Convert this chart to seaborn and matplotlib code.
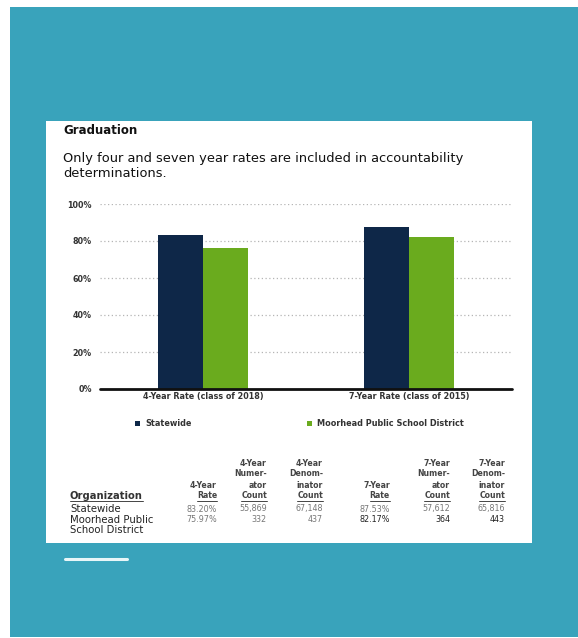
import matplotlib
matplotlib.use("Agg")
import matplotlib.pyplot as plt
from matplotlib.patches import Rectangle
from matplotlib.lines import Line2D
import seaborn as sns
import pandas as pd

# ---- data ----
categories = ["4-Year Rate (class of 2018)", "7-Year Rate (class of 2015)"]
organizations = ["Statewide", "Moorhead Public School District"]
statewide_rates = [83.20, 87.53]
moorhead_rates = [75.97, 82.17]
y_ticks = [0, 20, 40, 60, 80, 100]
y_tick_labels = ["0%", "20%", "40%", "60%", "80%", "100%"]

table_headers = [
    ["4-Year", "Rate"],
    ["4-Year", "Numer-", "ator", "Count"],
    ["4-Year", "Denom-", "inator", "Count"],
    ["7-Year", "Rate"],
    ["7-Year", "Numer-", "ator", "Count"],
    ["7-Year", "Denom-", "inator", "Count"],
]
row_names = ["Statewide", "Moorhead Public\nSchool District"]
statewide_row = ["83.20%", "55,869", "67,148", "87.53%", "57,612", "65,816"]
moorhead_row = ["75.97%", "332", "437", "82.17%", "364", "443"]

title = "Graduation"
subtitle = "Only four and seven year rates are included in accountability\ndeterminations."

# ---- styling ----
W, H = 578, 638
teal = "#39a3bb"
navy = "#0e2748"
green = "#6aab1e"

sns.set_theme(style="white")
plt.rcParams["font.family"] = ["DejaVu Sans"]

fig = plt.figure(figsize=(W / 100, H / 100), dpi=100)
fig.patch.set_facecolor("white")

def fx(x):
    return x / W

def fy(y):
    return 1 - y / H

# teal background and white card
fig.patches.append(Rectangle((fx(10), fy(637)), fx(578 - 10), (637 - 7) / H,
                             transform=fig.transFigure, facecolor=teal, edgecolor="none", zorder=0))
fig.patches.append(Rectangle((fx(46), fy(543)), fx(532 - 46), (543 - 121) / H,
                             transform=fig.transFigure, facecolor="white", edgecolor="none", zorder=1))
fig.lines.append(Line2D([fx(65), fx(127)], [fy(559), fy(559)], transform=fig.transFigure,
                        color="#e8f6f8", lw=2.2, zorder=2))

fig.text(fx(63), fy(130), title, fontsize=8.5, fontweight="bold", color="#111", va="center", ha="left")
fig.text(fx(63), fy(166), subtitle, fontsize=9.4, color="#111", va="center", ha="left", linespacing=1.15)

# ---- chart ----
df = pd.DataFrame({
    "category": categories * 2,
    "organization": [organizations[0]] * 2 + [organizations[1]] * 2,
    "rate": statewide_rates + moorhead_rates,
})

ax = fig.add_axes([fx(100), fy(389), fx(512 - 100), (389 - 204) / H])
ax.set_zorder(3)
ax.patch.set_alpha(0)
sns.barplot(data=df, x="category", y="rate", hue="organization", order=categories,
            hue_order=organizations, palette=[navy, green], width=0.44, saturation=1,
            ax=ax, edgecolor="none")
ax.set_xlim(-0.5, 1.5)
ax.set_ylim(0, 100)
ax.set_yticks(y_ticks)
ax.set_yticklabels(y_tick_labels)
for t in y_ticks[1:]:
    ax.axhline(t, color="#b5b5b5", lw=0.9, linestyle=(0, (1, 2)), zorder=0)
ax.axhline(0, color="#111", lw=2, zorder=5, clip_on=False)
for s in ax.spines.values():
    s.set_visible(False)
ax.set_xlabel("")
ax.set_ylabel("")
ax.tick_params(axis="y", length=0, pad=6, labelsize=5.8, labelcolor="#333")
ax.tick_params(axis="x", length=0, pad=2, labelsize=5.8, labelcolor="#333")
for lab in ax.get_xticklabels() + ax.get_yticklabels():
    lab.set_fontweight("bold")

handles, labels = ax.get_legend_handles_labels()
ax.get_legend().remove()
leg = fig.legend(handles, labels, ncol=2, loc="center left",
                 bbox_to_anchor=(fx(135), fy(424)), bbox_transform=fig.transFigure,
                 frameon=False, fontsize=5.9, handlelength=0.6, handleheight=0.6,
                 handletextpad=0.7, columnspacing=14.0, borderaxespad=0, borderpad=0)
for t in leg.get_texts():
    t.set_fontweight("bold")
    t.set_color("#333")

# ---- table ----
col_right = [217, 267, 323, 390, 450, 505]
header_lines_y = [463, 474, 485, 496]
renderer = fig.canvas.get_renderer()
hdr_fs = 5.6
hdr_color = "#444"

def underline(txt, y):
    bb = txt.get_window_extent(renderer=renderer)
    x0, x1 = bb.x0 / fig.dpi / fig.get_figwidth(), bb.x1 / fig.dpi / fig.get_figwidth()
    fig.lines.append(Line2D([x0, x1], [fy(y + 5), fy(y + 5)], transform=fig.transFigure,
                            color=hdr_color, lw=0.7, zorder=4))

org = fig.text(fx(70), fy(496), "Organization", fontsize=7.2, fontweight="bold", color="#333",
               ha="left", va="center", zorder=4)
underline(org, 496)
for xr, lines in zip(col_right, table_headers):
    n = len(lines)
    ys = header_lines_y[-n:]
    for i, (line, y) in enumerate(zip(lines, ys)):
        t = fig.text(fx(xr), fy(y), line, fontsize=hdr_fs, fontweight="bold", color=hdr_color,
                     ha="right", va="center", zorder=4)
        if i == n - 1:
            underline(t, y)

fig.text(fx(70), fy(509), row_names[0], fontsize=7.3, color="#222", ha="left", va="center", zorder=4)
fig.text(fx(70), fy(525), row_names[1], fontsize=7.3, color="#222", ha="left", va="center",
         linespacing=1.05, zorder=4)
for i, (xr, v) in enumerate(zip(col_right, statewide_row)):
    fig.text(fx(xr), fy(509), v, fontsize=5.8, color="#777", ha="right", va="center", zorder=4)
for i, (xr, v) in enumerate(zip(col_right, moorhead_row)):
    c = "#777" if i < 3 else "#222"
    fig.text(fx(xr), fy(520), v, fontsize=5.8, color=c, ha="right", va="center", zorder=4)

fig.savefig("out.png", dpi=100, facecolor=fig.get_facecolor())
